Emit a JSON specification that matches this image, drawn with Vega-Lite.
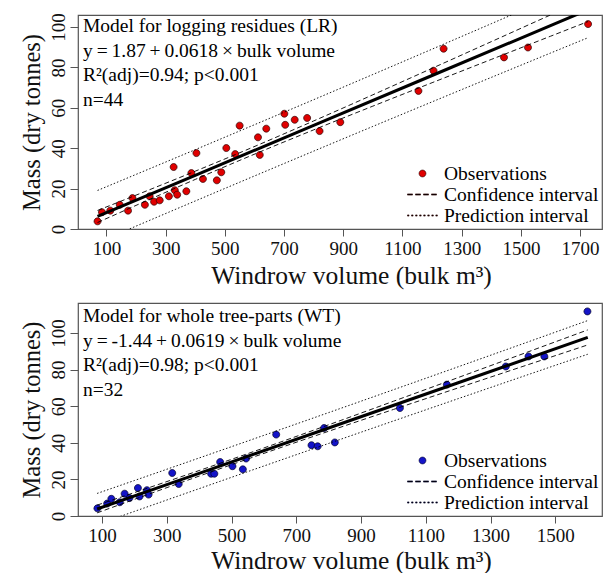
{
  "$schema": "https://vega.github.io/schema/vega-lite/v6.json",
  "background": "white",
  "autosize": {"type": "pad"},
  "padding": {"left": 18, "top": 12, "right": 6, "bottom": 0},
  "config": {
    "font": "Liberation Serif",
    "view": {"stroke": "#555555", "strokeWidth": 1.2},
    "axis": {
      "domain": false, "grid": false, "tickColor": "#555555", "tickSize": 7, "tickWidth": 1,
      "labelFont": "Liberation Serif", "labelFontSize": 19, "labelColor": "#111111",
      "labelFlush": false, "labelOverlap": false, "format": "d",
      "titleFont": "Liberation Serif", "titleFontSize": 24.5, "titleFontWeight": "normal", "titleColor": "#111111"
    },
    "axisX": {"labelPadding": 3, "titleBaseline": "alphabetic", "titleX": 273, "titleFontSize": 25.5},
    "axisY": {"labelAngle": -90, "labelAlign": "center", "labelBaseline": "alphabetic", "labelPadding": 6, "tickSize": 8, "titleBaseline": "alphabetic", "titleX": -39},
    "legend": {
      "title": null, "orient": "bottom-right", "offset": 3, "padding": 0,
      "labelFont": "Liberation Serif", "labelFontSize": 19.5, "labelColor": "#000000",
      "labelOffset": 6, "rowPadding": 0, "symbolSize": 900, "clipHeight": 21,
      "symbolStrokeWidth": 0.6, "symbolOpacity": 1
    }
  },
  "spacing": 74,
  "bounds": "flush",
  "resolve": {"scale": {"x": "independent", "y": "independent", "shape": "independent", "color": "independent", "strokeDash": "independent"}, "legend": {"shape": "independent", "color": "independent"}},
  "vconcat": [
    {
      "width": 524, "height": 214,
      "layer": [
        {
          "data": {"values": [
            {"x":70,"y":3.8,"series":"Observations"},{"x":85,"y":8.3,"series":"Observations"},{"x":113,"y":9.1,"series":"Observations"},
            {"x":145,"y":12.0,"series":"Observations"},{"x":173,"y":9.1,"series":"Observations"},{"x":188,"y":15.3,"series":"Observations"},
            {"x":230,"y":12.0,"series":"Observations"},{"x":246,"y":16.2,"series":"Observations"},{"x":261,"y":13.5,"series":"Observations"},
            {"x":280,"y":14.2,"series":"Observations"},{"x":311,"y":16.2,"series":"Observations"},{"x":327,"y":30.7,"series":"Observations"},
            {"x":331,"y":19.2,"series":"Observations"},{"x":339,"y":17.0,"series":"Observations"},{"x":370,"y":18.7,"series":"Observations"},
            {"x":387,"y":27.7,"series":"Observations"},{"x":404,"y":37.6,"series":"Observations"},{"x":426,"y":24.8,"series":"Observations"},
            {"x":473,"y":24.1,"series":"Observations"},{"x":488,"y":28.1,"series":"Observations"},{"x":505,"y":40.1,"series":"Observations"},
            {"x":535,"y":37.1,"series":"Observations"},{"x":550,"y":51.2,"series":"Observations"},{"x":612,"y":45.4,"series":"Observations"},
            {"x":618,"y":36.7,"series":"Observations"},{"x":640,"y":49.7,"series":"Observations"},{"x":701,"y":57.1,"series":"Observations"},
            {"x":704,"y":51.6,"series":"Observations"},{"x":736,"y":54.1,"series":"Observations"},{"x":778,"y":55.0,"series":"Observations"},
            {"x":820,"y":48.5,"series":"Observations"},{"x":890,"y":52.9,"series":"Observations"},{"x":1154,"y":68.4,"series":"Observations"},
            {"x":1205,"y":78.4,"series":"Observations"},{"x":1239,"y":89.3,"series":"Observations"},{"x":1443,"y":85.0,"series":"Observations"},
            {"x":1524,"y":89.9,"series":"Observations"},{"x":1727,"y":101.5,"series":"Observations"}
          ]},
          "mark": {"type": "point", "filled": true, "size": 925, "stroke": "#2a0000", "strokeWidth": 0.7, "opacity": 1},
          "encoding": {
            "x": {"field": "x", "type": "quantitative", "scale": {"domain": [4, 1774], "nice": false, "zero": false},
                  "axis": {"values": [100,200,300,400,500,600,700,800,900,1000,1100,1200,1300,1400,1500,1600,1700],
                           "labelExpr": "datum.value % 200 == 100 ? datum.label : ''", "title": "Windrow volume (bulk m³)", "titleY": 54}},
            "y": {"field": "y", "type": "quantitative", "scale": {"domain": [0, 106], "nice": false, "zero": false},
                  "axis": {"values": [0,10,20,30,40,50,60,70,80,90,100], "labelExpr": "datum.value % 20 == 0 ? datum.label : ''",
                           "title": "Mass (dry tonnes)", "titleY": 107}},
            "color": {"field": "series", "type": "nominal",
                      "scale": {"domain": ["Observations", "Confidence interval", "Prediction interval"], "range": ["#e00000", "#000000", "#000000"]},
                      "legend": {"title": null}},
            "shape": {"field": "series", "type": "nominal",
                      "scale": {"domain": ["Observations", "Confidence interval", "Prediction interval"],
                                "range": ["M-0.23,0A0.23,0.23,0,1,0,0.23,0A0.23,0.23,0,1,0,-0.23,0Z",
                                          "M-1,-0.04L-0.667,-0.04L-0.667,0.04L-1,0.04ZM-0.467,-0.04L-0.133,-0.04L-0.133,0.04L-0.467,0.04ZM0.067,-0.04L0.4,-0.04L0.4,0.04L0.067,0.04ZM0.6,-0.04L0.933,-0.04L0.933,0.04L0.6,0.04Z",
                                          "M-1,-0.04L-0.9,-0.04L-0.9,0.04L-1,0.04ZM-0.73,-0.04L-0.63,-0.04L-0.63,0.04L-0.73,0.04ZM-0.46,-0.04L-0.36,-0.04L-0.36,0.04L-0.46,0.04ZM-0.19,-0.04L-0.09,-0.04L-0.09,0.04L-0.19,0.04ZM0.08,-0.04L0.18,-0.04L0.18,0.04L0.08,0.04ZM0.35,-0.04L0.45,-0.04L0.45,0.04L0.35,0.04ZM0.62,-0.04L0.72,-0.04L0.72,0.04L0.62,0.04ZM0.89,-0.04L0.99,-0.04L0.99,0.04L0.89,0.04Z"]},
                      "legend": {"title": null}}
          }
        },
        {
          "data": {"values": [
            {"x":70,"kind":"Confidence interval","lo":3.21,"hi":9.19},{"x":70,"kind":"Prediction interval","lo":-6.70,"hi":19.10},
            {"x":200,"kind":"Confidence interval","lo":11.69,"hi":16.77},{"x":200,"kind":"Prediction interval","lo":1.42,"hi":27.04},
            {"x":400,"kind":"Confidence interval","lo":24.55,"hi":28.63},{"x":400,"kind":"Prediction interval","lo":13.88,"hi":39.30},
            {"x":560,"kind":"Confidence interval","lo":34.59,"hi":38.37},{"x":560,"kind":"Prediction interval","lo":23.79,"hi":49.17},
            {"x":800,"kind":"Confidence interval","lo":49.10,"hi":53.52},{"x":800,"kind":"Prediction interval","lo":38.57,"hi":64.05},
            {"x":1000,"kind":"Confidence interval","lo":60.86,"hi":66.48},{"x":1000,"kind":"Prediction interval","lo":50.81,"hi":76.53},
            {"x":1200,"kind":"Confidence interval","lo":72.46,"hi":79.60},{"x":1200,"kind":"Prediction interval","lo":62.98,"hi":89.08},
            {"x":1400,"kind":"Confidence interval","lo":83.99,"hi":92.79},{"x":1400,"kind":"Prediction interval","lo":75.09,"hi":101.69},
            {"x":1600,"kind":"Confidence interval","lo":95.48,"hi":106.02},{"x":1600,"kind":"Prediction interval","lo":87.14,"hi":114.36},
            {"x":1727,"kind":"Confidence interval","lo":102.77,"hi":114.43},{"x":1727,"kind":"Prediction interval","lo":94.76,"hi":122.44}
          ]},
          "transform": [{"fold": ["lo", "hi"], "as": ["band", "val"]}],
          "mark": {"type": "line", "clip": true, "strokeWidth": 0.9, "color": "#000000", "interpolate": "monotone"},
          "encoding": {
            "x": {"field": "x", "type": "quantitative"},
            "y": {"field": "val", "type": "quantitative"},
            "detail": {"field": "band"},
            "strokeDash": {"field": "kind", "type": "nominal",
                           "scale": {"domain": ["Confidence interval", "Prediction interval"], "range": [[5, 3], [1.5, 2]]}, "legend": null}
          }
        },
        {
          "data": {"values": [
            {"x":70,"fit":6.20},{"x":400,"fit":26.59},{"x":800,"fit":51.31},{"x":1200,"fit":76.03},{"x":1600,"fit":100.75},{"x":1727,"fit":108.60}
          ]},
          "mark": {"type": "line", "clip": true, "strokeWidth": 3, "color": "#000000"},
          "encoding": {
            "x": {"field": "x", "type": "quantitative"},
            "y": {"field": "fit", "type": "quantitative"}
          }
        },
        {
          "data": {"values": [{}]},
          "mark": {"type": "text", "text": ["Model for logging residues (LR)", "y\u2009=\u20091.87\u2009+\u20090.0618\u2009×\u2009bulk volume", "R²(adj)=0.94; p<0.001", "n=44"],
                   "align": "left", "baseline": "top", "font": "Liberation Serif", "fontSize": 19.5, "lineHeight": 24.5, "dx": 5, "dy": 2, "color": "#000000"},
          "encoding": {"x": {"datum": 4, "type": "quantitative"}, "y": {"datum": 106, "type": "quantitative"}}
        }
      ]
    },
    {
      "width": 524, "height": 213,
      "layer": [
        {
          "data": {"values": [
            {"x":86,"y":4.2,"series":"Observations"},{"x":116,"y":6.8,"series":"Observations"},{"x":129,"y":9.4,"series":"Observations"},
            {"x":155,"y":7.5,"series":"Observations"},{"x":170,"y":12.2,"series":"Observations"},{"x":185,"y":9.8,"series":"Observations"},
            {"x":211,"y":15.3,"series":"Observations"},{"x":216,"y":10.7,"series":"Observations"},{"x":239,"y":14.1,"series":"Observations"},
            {"x":244,"y":11.7,"series":"Observations"},{"x":317,"y":23.5,"series":"Observations"},{"x":337,"y":17.5,"series":"Observations"},
            {"x":437,"y":23.1,"series":"Observations"},{"x":447,"y":23.1,"series":"Observations"},{"x":465,"y":29.5,"series":"Observations"},
            {"x":503,"y":27.2,"series":"Observations"},{"x":535,"y":25.5,"series":"Observations"},{"x":545,"y":31.4,"series":"Observations"},
            {"x":638,"y":44.5,"series":"Observations"},{"x":747,"y":38.7,"series":"Observations"},{"x":766,"y":38.1,"series":"Observations"},
            {"x":786,"y":48.1,"series":"Observations"},{"x":819,"y":40.2,"series":"Observations"},{"x":1020,"y":59.0,"series":"Observations"},
            {"x":1165,"y":71.8,"series":"Observations"},{"x":1347,"y":81.7,"series":"Observations"},{"x":1417,"y":87.2,"series":"Observations"},
            {"x":1466,"y":87.2,"series":"Observations"},{"x":1599,"y":111.8,"series":"Observations"}
          ]},
          "mark": {"type": "point", "filled": true, "size": 925, "stroke": "#00002a", "strokeWidth": 0.7, "opacity": 1},
          "encoding": {
            "x": {"field": "x", "type": "quantitative", "scale": {"domain": [26, 1644], "nice": false, "zero": false},
                  "axis": {"values": [100,200,300,400,500,600,700,800,900,1000,1100,1200,1300,1400,1500,1600],
                           "labelExpr": "datum.value % 200 == 100 ? datum.label : ''", "title": "Windrow volume (bulk m³)", "titleY": 52}},
            "y": {"field": "y", "type": "quantitative", "scale": {"domain": [0, 116.4], "nice": false, "zero": false},
                  "axis": {"values": [0,10,20,30,40,50,60,70,80,90,100,110], "labelExpr": "datum.value % 20 == 0 && datum.value <= 100 ? datum.label : ''",
                           "title": "Mass (dry tonnes)", "titleY": 106.5}},
            "color": {"field": "series", "type": "nominal",
                      "scale": {"domain": ["Observations", "Confidence interval", "Prediction interval"], "range": ["#1414c8", "#000000", "#000000"]},
                      "legend": {"title": null}},
            "shape": {"field": "series", "type": "nominal",
                      "scale": {"domain": ["Observations", "Confidence interval", "Prediction interval"],
                                "range": ["M-0.23,0A0.23,0.23,0,1,0,0.23,0A0.23,0.23,0,1,0,-0.23,0Z",
                                          "M-1,-0.04L-0.667,-0.04L-0.667,0.04L-1,0.04ZM-0.467,-0.04L-0.133,-0.04L-0.133,0.04L-0.467,0.04ZM0.067,-0.04L0.4,-0.04L0.4,0.04L0.067,0.04ZM0.6,-0.04L0.933,-0.04L0.933,0.04L0.6,0.04Z",
                                          "M-1,-0.04L-0.9,-0.04L-0.9,0.04L-1,0.04ZM-0.73,-0.04L-0.63,-0.04L-0.63,0.04L-0.73,0.04ZM-0.46,-0.04L-0.36,-0.04L-0.36,0.04L-0.46,0.04ZM-0.19,-0.04L-0.09,-0.04L-0.09,0.04L-0.19,0.04ZM0.08,-0.04L0.18,-0.04L0.18,0.04L0.08,0.04ZM0.35,-0.04L0.45,-0.04L0.45,0.04L0.35,0.04ZM0.62,-0.04L0.72,-0.04L0.72,0.04L0.62,0.04ZM0.89,-0.04L0.99,-0.04L0.99,0.04L0.89,0.04Z"]},
                      "legend": {"title": null}}
          }
        },
        {
          "data": {"values": [
            {"x":85,"kind":"Confidence interval","lo":1.70,"hi":5.94},{"x":85,"kind":"Prediction interval","lo":-4.69,"hi":12.33},
            {"x":200,"kind":"Confidence interval","lo":9.09,"hi":12.79},{"x":200,"kind":"Prediction interval","lo":2.50,"hi":19.38},
            {"x":400,"kind":"Confidence interval","lo":21.80,"hi":24.84},{"x":400,"kind":"Prediction interval","lo":14.94,"hi":31.70},
            {"x":520,"kind":"Confidence interval","lo":29.29,"hi":32.21},{"x":520,"kind":"Prediction interval","lo":22.38,"hi":39.12},
            {"x":800,"kind":"Confidence interval","lo":46.32,"hi":49.84},{"x":800,"kind":"Prediction interval","lo":39.65,"hi":56.51},
            {"x":1000,"kind":"Confidence interval","lo":58.22,"hi":62.70},{"x":1000,"kind":"Prediction interval","lo":51.92,"hi":69.00},
            {"x":1200,"kind":"Confidence interval","lo":70.02,"hi":75.66},{"x":1200,"kind":"Prediction interval","lo":64.13,"hi":81.55},
            {"x":1400,"kind":"Confidence interval","lo":81.77,"hi":88.67},{"x":1400,"kind":"Prediction interval","lo":76.29,"hi":94.15},
            {"x":1600,"kind":"Confidence interval","lo":93.50,"hi":101.70},{"x":1600,"kind":"Prediction interval","lo":88.40,"hi":106.80}
          ]},
          "transform": [{"fold": ["lo", "hi"], "as": ["band", "val"]}],
          "mark": {"type": "line", "clip": true, "strokeWidth": 0.9, "color": "#000000", "interpolate": "monotone"},
          "encoding": {
            "x": {"field": "x", "type": "quantitative"},
            "y": {"field": "val", "type": "quantitative"},
            "detail": {"field": "band"},
            "strokeDash": {"field": "kind", "type": "nominal",
                           "scale": {"domain": ["Confidence interval", "Prediction interval"], "range": [[5, 3], [1.5, 2]]}, "legend": null}
          }
        },
        {
          "data": {"values": [
            {"x":85,"fit":3.82},{"x":400,"fit":23.32},{"x":800,"fit":48.08},{"x":1200,"fit":72.84},{"x":1600,"fit":97.60}
          ]},
          "mark": {"type": "line", "clip": true, "strokeWidth": 3, "color": "#000000"},
          "encoding": {
            "x": {"field": "x", "type": "quantitative"},
            "y": {"field": "fit", "type": "quantitative"}
          }
        },
        {
          "data": {"values": [{}]},
          "mark": {"type": "text", "text": ["Model for whole tree-parts (WT)", "y\u2009=\u2009-1.44\u2009+\u20090.0619\u2009×\u2009bulk volume", "R²(adj)=0.98; p<0.001", "n=32"],
                   "align": "left", "baseline": "top", "font": "Liberation Serif", "fontSize": 19.5, "lineHeight": 24.5, "dx": 5, "dy": 4, "color": "#000000"},
          "encoding": {"x": {"datum": 26, "type": "quantitative"}, "y": {"datum": 116.4, "type": "quantitative"}}
        }
      ]
    }
  ]
}
